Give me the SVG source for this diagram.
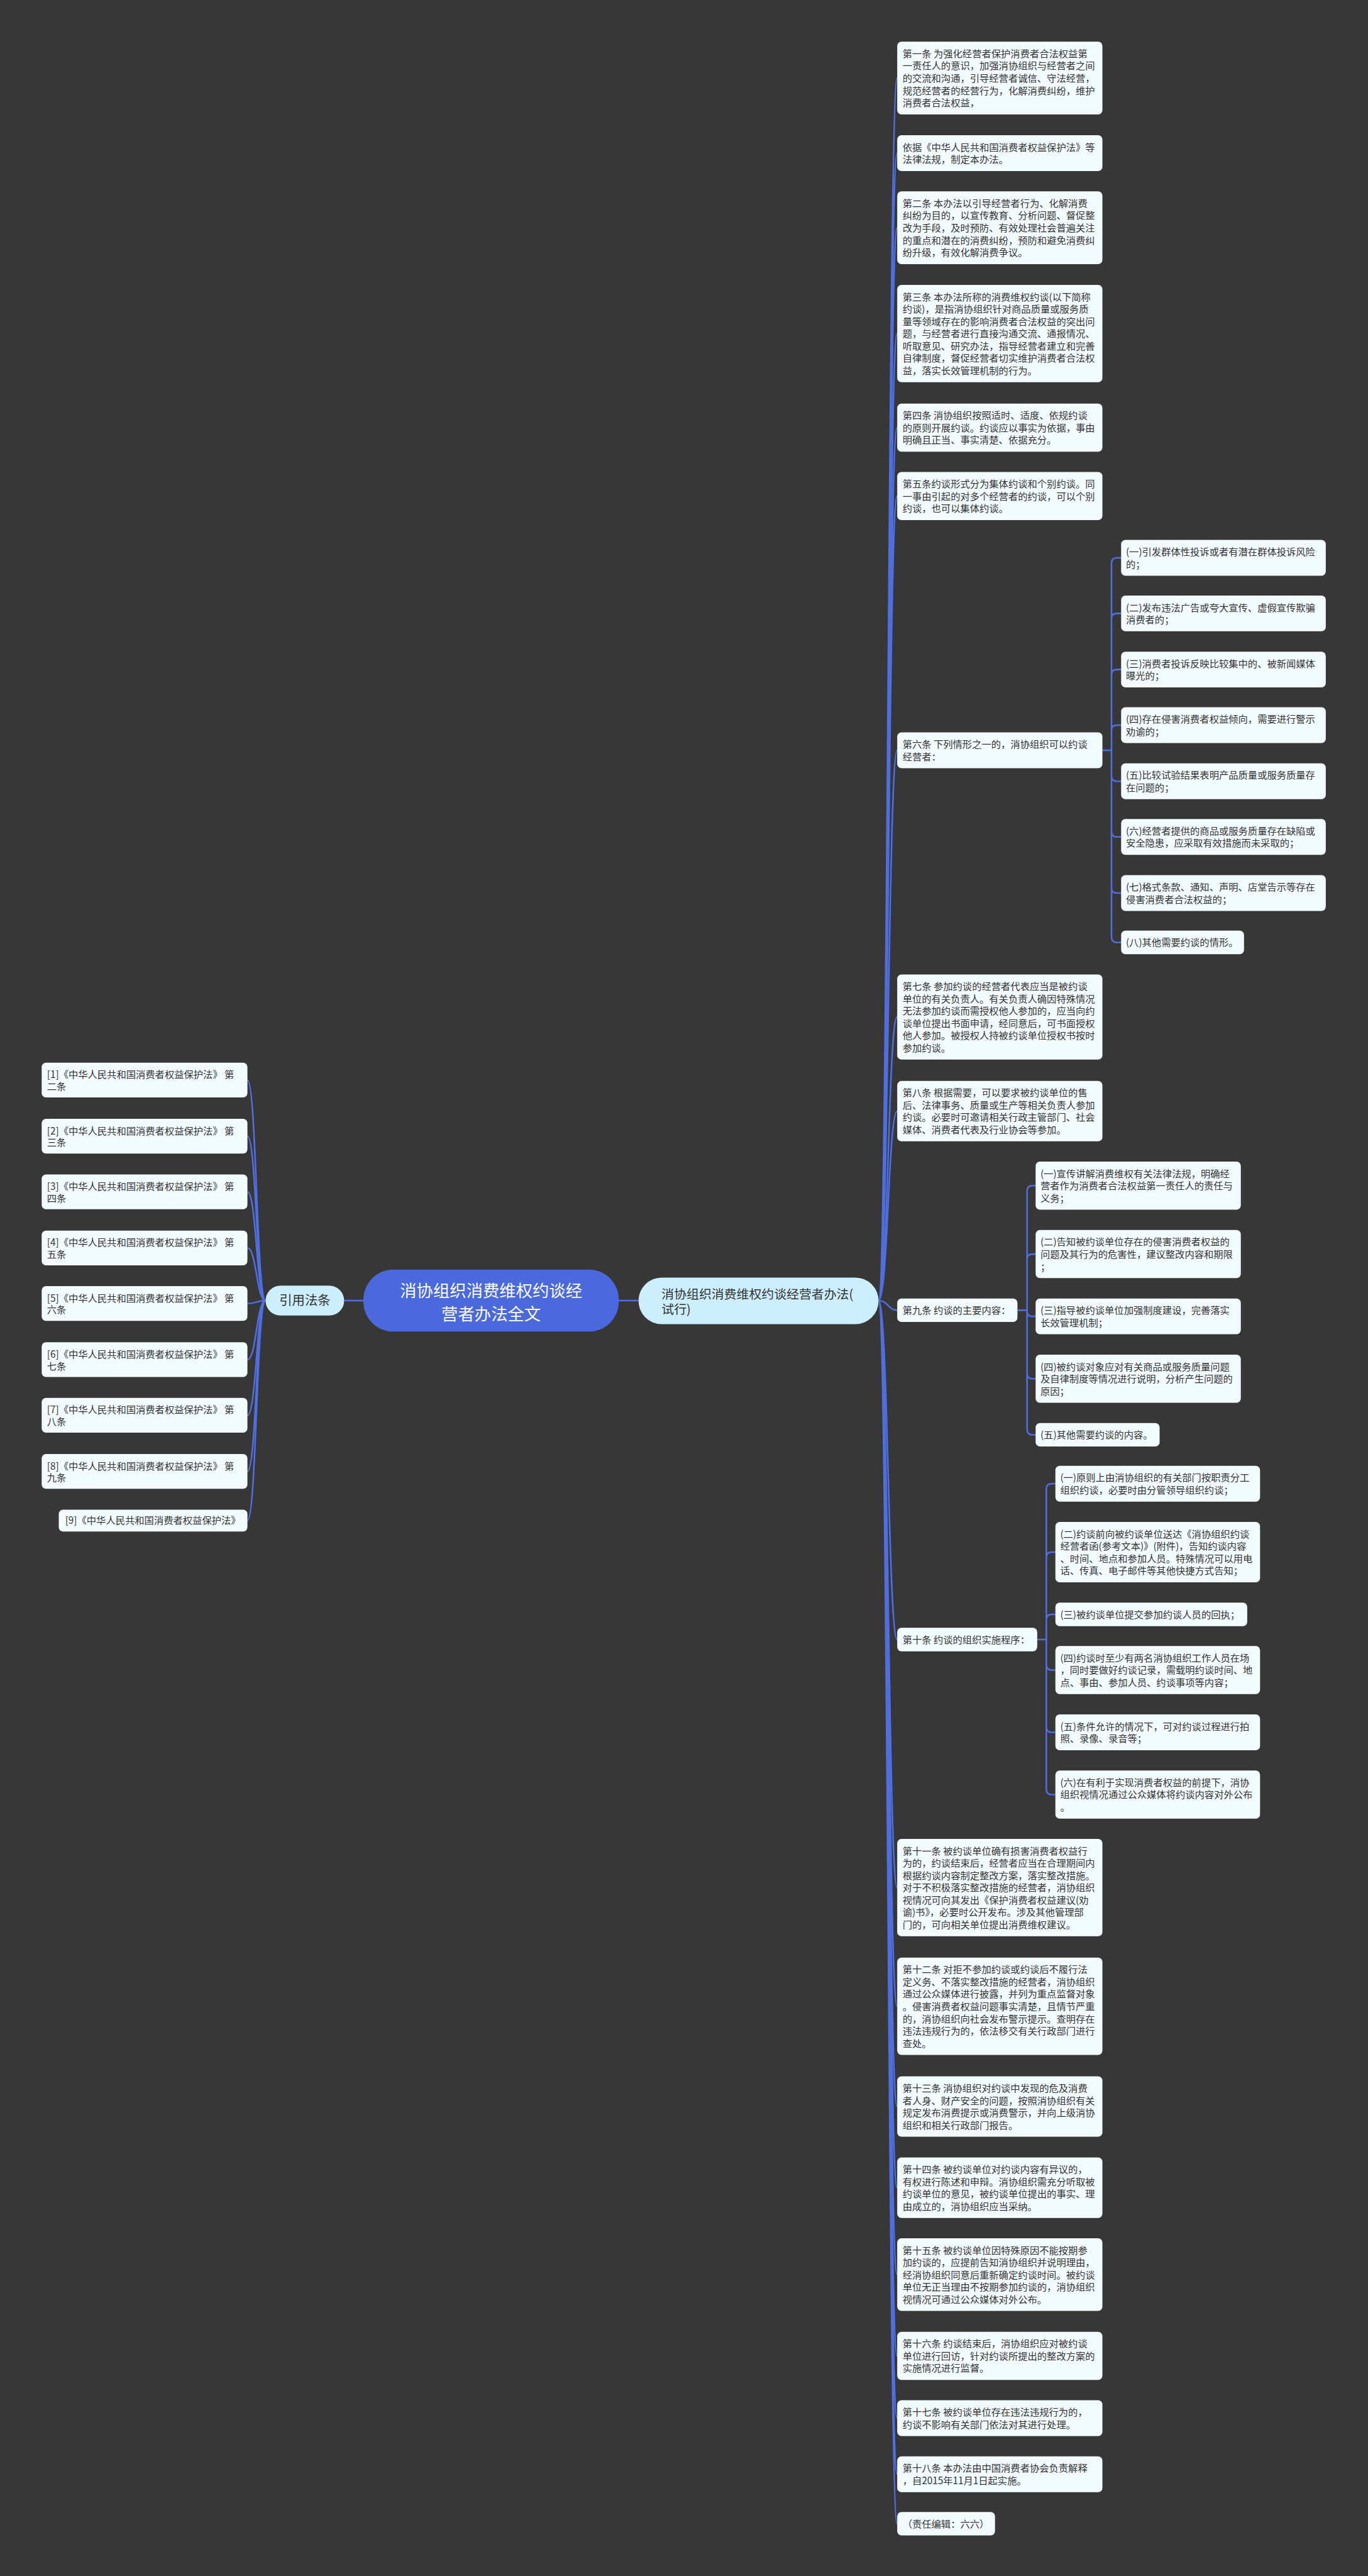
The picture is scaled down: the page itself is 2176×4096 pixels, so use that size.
<svg xmlns="http://www.w3.org/2000/svg" width="2176" height="4096" viewBox="0 0 2176 4096">
<style>
text{font-family:"Noto Sans CJK SC","Noto Sans",sans-serif}
.n rect{fill:#f2fbfe}
.t{font-size:18px;fill:#333}
.c{fill:none;stroke:#4f6fe0;stroke-width:3;stroke-linecap:round}
.l1 rect{fill:#cdeffd}
</style>
<rect width="2176" height="4096" fill="#373737"/>
<g transform="scale(0.85)">
<g id="connectors">
<path class="c" d="M644,2433H680M1158,2433H1195"/>
<path class="c" d="M1644,2433C1662,2433 1662,146 1679,146M1644,2433C1662,2433 1662,286.5 1679,286.5M1644,2433C1662,2433 1662,426 1679,426M1644,2433C1662,2433 1662,624 1679,624M1644,2433C1662,2433 1662,800 1679,800M1644,2433C1662,2433 1662,928 1679,928M1644,2433C1662,2433 1662,1403.5 1679,1403.5M1644,2433C1662,2433 1662,1902.5 1679,1902.5M1644,2433C1662,2433 1662,2078.5 1679,2078.5M1644,2433C1662,2433 1662,2451 1679,2451M1644,2433C1662,2433 1662,3067 1679,3067M1644,2433C1662,2433 1662,3531 1679,3531M1644,2433C1662,2433 1662,3753 1679,3753M1644,2433C1662,2433 1662,3940.5 1679,3940.5M1644,2433C1662,2433 1662,4092.5 1679,4092.5M1644,2433C1662,2433 1662,4255 1679,4255M1644,2433C1662,2433 1662,4407 1679,4407M1644,2433C1662,2433 1662,4523.5 1679,4523.5M1644,2433C1662,2433 1662,4628.5 1679,4628.5M1644,2433C1662,2433 1662,4721 1679,4721"/>
<path class="c" d="M497,2433C480,2433 480,2020.5 463,2020.5M497,2433C480,2433 480,2125.5 463,2125.5M497,2433C480,2433 480,2229.5 463,2229.5M497,2433C480,2433 480,2334.5 463,2334.5M497,2433C480,2433 480,2438.5 463,2438.5M497,2433C480,2433 480,2543.5 463,2543.5M497,2433C480,2433 480,2647.5 463,2647.5M497,2433C480,2433 480,2752.5 463,2752.5M497,2433C480,2433 480,2844.5 463,2844.5"/>
<path class="c" d="M2063,1403.5H2080V1053.5Q2080,1043.5 2090,1043.5H2098M2063,1403.5H2080V1157.5Q2080,1147.5 2090,1147.5H2098M2063,1403.5H2080V1262.5Q2080,1252.5 2090,1252.5H2098M2063,1403.5H2080V1366.5Q2080,1356.5 2090,1356.5H2098M2063,1403.5H2080V1451.5Q2080,1461.5 2090,1461.5H2098M2063,1403.5H2080V1555.5Q2080,1565.5 2090,1565.5H2098M2063,1403.5H2080V1660.5Q2080,1670.5 2090,1670.5H2098M2063,1403.5H2080V1753Q2080,1763 2090,1763H2098"/>
<path class="c" d="M1904,2451H1922V2228Q1922,2218 1932,2218H1938M1904,2451H1922V2356Q1922,2346 1932,2346H1938M1904,2451H1922V2452.5Q1922,2462.5 1932,2462.5H1938M1904,2451H1922V2569Q1922,2579 1932,2579H1938M1904,2451H1922V2674Q1922,2684 1932,2684H1938"/>
<path class="c" d="M1941,3067H1958V2785.5Q1958,2775.5 1968,2775.5H1975M1941,3067H1958V2913.5Q1958,2903.5 1968,2903.5H1975M1941,3067H1958V3030Q1958,3020 1968,3020H1975M1941,3067H1958V3114Q1958,3124 1968,3124H1975M1941,3067H1958V3230.5Q1958,3240.5 1968,3240.5H1975M1941,3067H1958V3347Q1958,3357 1968,3357H1975"/>
</g>

<g id="center"><rect x="680" y="2375" width="478" height="116" rx="56" fill="#4a69dc"/><text x="919" y="2426" font-size="31" fill="#ffffff" text-anchor="middle"><tspan x="919">消协组织消费维权约谈经</tspan><tspan x="919" dy="43">营者办法全文</tspan></text></g>
<g id="cite" class="l1"><rect x="497" y="2405" width="147" height="56" rx="28"/><text x="570.5" y="2441.5" font-size="24" fill="#333" text-anchor="middle">引用法条</text></g>
<g id="law" class="l1"><rect x="1195" y="2390" width="449" height="87" rx="43"/><text x="1238" y="2430" font-size="23.4" fill="#333"><tspan x="1238">消协组织消费维权约谈经营者办法(</tspan><tspan x="1238" dy="28">试行)</tspan></text></g>

<g id="ref1" class="n"><rect x="78" y="1988" width="385" height="65" rx="8"/><text class="t" y="2017"><tspan x="88">[1]《中华人民共和国消费者权益保护法》 第</tspan><tspan x="88" dy="22">二条</tspan></text></g>
<g id="ref2" class="n"><rect x="78" y="2093" width="385" height="65" rx="8"/><text class="t" y="2122"><tspan x="88">[2]《中华人民共和国消费者权益保护法》 第</tspan><tspan x="88" dy="22">三条</tspan></text></g>
<g id="ref3" class="n"><rect x="78" y="2197" width="385" height="65" rx="8"/><text class="t" y="2226"><tspan x="88">[3]《中华人民共和国消费者权益保护法》 第</tspan><tspan x="88" dy="22">四条</tspan></text></g>
<g id="ref4" class="n"><rect x="78" y="2302" width="385" height="65" rx="8"/><text class="t" y="2331"><tspan x="88">[4]《中华人民共和国消费者权益保护法》 第</tspan><tspan x="88" dy="22">五条</tspan></text></g>
<g id="ref5" class="n"><rect x="78" y="2406" width="385" height="65" rx="8"/><text class="t" y="2435"><tspan x="88">[5]《中华人民共和国消费者权益保护法》 第</tspan><tspan x="88" dy="22">六条</tspan></text></g>
<g id="ref6" class="n"><rect x="78" y="2511" width="385" height="65" rx="8"/><text class="t" y="2540"><tspan x="88">[6]《中华人民共和国消费者权益保护法》 第</tspan><tspan x="88" dy="22">七条</tspan></text></g>
<g id="ref7" class="n"><rect x="78" y="2615" width="385" height="65" rx="8"/><text class="t" y="2644"><tspan x="88">[7]《中华人民共和国消费者权益保护法》 第</tspan><tspan x="88" dy="22">八条</tspan></text></g>
<g id="ref8" class="n"><rect x="78" y="2720" width="385" height="65" rx="8"/><text class="t" y="2749"><tspan x="88">[8]《中华人民共和国消费者权益保护法》 第</tspan><tspan x="88" dy="22">九条</tspan></text></g>
<g id="ref9" class="n"><rect x="110" y="2824" width="353" height="41" rx="8"/><text class="t" x="122" y="2851">[9]《中华人民共和国消费者权益保护法》</text></g>

<g id="a1" class="n"><rect x="1679" y="78" width="384" height="136" rx="8"/><text class="t" y="107"><tspan x="1689">第一条 为强化经营者保护消费者合法权益第</tspan><tspan x="1689" dy="23">一责任人的意识，加强消协组织与经营者之间</tspan><tspan x="1689" dy="23">的交流和沟通，引导经营者诚信、守法经营，</tspan><tspan x="1689" dy="23">规范经营者的经营行为，化解消费纠纷，维护</tspan><tspan x="1689" dy="23">消费者合法权益，</tspan></text></g>
<g id="a2" class="n"><rect x="1679" y="253" width="384" height="67" rx="8"/><text class="t" y="282"><tspan x="1689">依据《中华人民共和国消费者权益保护法》等</tspan><tspan x="1689" dy="23">法律法规，制定本办法。</tspan></text></g>
<g id="a3" class="n"><rect x="1679" y="358" width="384" height="136" rx="8"/><text class="t" y="387"><tspan x="1689">第二条 本办法以引导经营者行为、化解消费</tspan><tspan x="1689" dy="23">纠纷为目的，以宣传教育、分析问题、督促整</tspan><tspan x="1689" dy="23">改为手段，及时预防、有效处理社会普遍关注</tspan><tspan x="1689" dy="23">的重点和潜在的消费纠纷，预防和避免消费纠</tspan><tspan x="1689" dy="23">纷升级，有效化解消费争议。</tspan></text></g>
<g id="a4" class="n"><rect x="1679" y="533" width="384" height="182" rx="8"/><text class="t" y="562"><tspan x="1689">第三条 本办法所称的消费维权约谈(以下简称</tspan><tspan x="1689" dy="23">约谈)，是指消协组织针对商品质量或服务质</tspan><tspan x="1689" dy="23">量等领域存在的影响消费者合法权益的突出问</tspan><tspan x="1689" dy="23">题，与经营者进行直接沟通交流、通报情况、</tspan><tspan x="1689" dy="23">听取意见、研究办法，指导经营者建立和完善</tspan><tspan x="1689" dy="23">自律制度，督促经营者切实维护消费者合法权</tspan><tspan x="1689" dy="23">益，落实长效管理机制的行为。</tspan></text></g>
<g id="a5" class="n"><rect x="1679" y="755" width="384" height="90" rx="8"/><text class="t" y="784"><tspan x="1689">第四条 消协组织按照适时、适度、依规约谈</tspan><tspan x="1689" dy="23">的原则开展约谈。约谈应以事实为依据，事由</tspan><tspan x="1689" dy="23">明确且正当、事实清楚、依据充分。</tspan></text></g>
<g id="a6" class="n"><rect x="1679" y="883" width="384" height="90" rx="8"/><text class="t" y="912"><tspan x="1689">第五条约谈形式分为集体约谈和个别约谈。同</tspan><tspan x="1689" dy="23">一事由引起的对多个经营者的约谈，可以个别</tspan><tspan x="1689" dy="23">约谈，也可以集体约谈。</tspan></text></g>
<g id="a7" class="n"><rect x="1679" y="1370" width="384" height="67" rx="8"/><text class="t" y="1399"><tspan x="1689">第六条 下列情形之一的，消协组织可以约谈</tspan><tspan x="1689" dy="23">经营者：</tspan></text></g>
<g id="a7-1" class="n"><rect x="2098" y="1010" width="383" height="67" rx="8"/><text class="t" y="1039"><tspan x="2107">(一)引发群体性投诉或者有潜在群体投诉风险</tspan><tspan x="2107" dy="23">的；</tspan></text></g>
<g id="a7-2" class="n"><rect x="2098" y="1114" width="383" height="67" rx="8"/><text class="t" y="1143"><tspan x="2107">(二)发布违法广告或夸大宣传、虚假宣传欺骗</tspan><tspan x="2107" dy="23">消费者的；</tspan></text></g>
<g id="a7-3" class="n"><rect x="2098" y="1219" width="383" height="67" rx="8"/><text class="t" y="1248"><tspan x="2107">(三)消费者投诉反映比较集中的、被新闻媒体</tspan><tspan x="2107" dy="23">曝光的；</tspan></text></g>
<g id="a7-4" class="n"><rect x="2098" y="1323" width="383" height="67" rx="8"/><text class="t" y="1352"><tspan x="2107">(四)存在侵害消费者权益倾向，需要进行警示</tspan><tspan x="2107" dy="23">劝谕的；</tspan></text></g>
<g id="a7-5" class="n"><rect x="2098" y="1428" width="383" height="67" rx="8"/><text class="t" y="1457"><tspan x="2107">(五)比较试验结果表明产品质量或服务质量存</tspan><tspan x="2107" dy="23">在问题的；</tspan></text></g>
<g id="a7-6" class="n"><rect x="2098" y="1532" width="383" height="67" rx="8"/><text class="t" y="1561"><tspan x="2107">(六)经营者提供的商品或服务质量存在缺陷或</tspan><tspan x="2107" dy="23">安全隐患，应采取有效措施而未采取的；</tspan></text></g>
<g id="a7-7" class="n"><rect x="2098" y="1637" width="383" height="67" rx="8"/><text class="t" y="1666"><tspan x="2107">(七)格式条款、通知、声明、店堂告示等存在</tspan><tspan x="2107" dy="23">侵害消费者合法权益的；</tspan></text></g>
<g id="a7-8" class="n"><rect x="2098" y="1741" width="230" height="44" rx="8"/><text class="t" x="2107" y="1770">(八)其他需要约谈的情形。</text></g>
<g id="a8" class="n"><rect x="1679" y="1823" width="384" height="159" rx="8"/><text class="t" y="1852"><tspan x="1689">第七条 参加约谈的经营者代表应当是被约谈</tspan><tspan x="1689" dy="23">单位的有关负责人。有关负责人确因特殊情况</tspan><tspan x="1689" dy="23">无法参加约谈而需授权他人参加的，应当向约</tspan><tspan x="1689" dy="23">谈单位提出书面申请，经同意后，可书面授权</tspan><tspan x="1689" dy="23">他人参加。被授权人持被约谈单位授权书按时</tspan><tspan x="1689" dy="23">参加约谈。</tspan></text></g>
<g id="a9" class="n"><rect x="1679" y="2022" width="384" height="113" rx="8"/><text class="t" y="2051"><tspan x="1689">第八条 根据需要，可以要求被约谈单位的售</tspan><tspan x="1689" dy="23">后、法律事务、质量或生产等相关负责人参加</tspan><tspan x="1689" dy="23">约谈。必要时可邀请相关行政主管部门、社会</tspan><tspan x="1689" dy="23">媒体、消费者代表及行业协会等参加。</tspan></text></g>
<g id="a10" class="n"><rect x="1679" y="2429" width="225" height="44" rx="8"/><text class="t" x="1689" y="2458">第九条 约谈的主要内容：</text></g>
<g id="a10-1" class="n"><rect x="1938" y="2173" width="384" height="90" rx="8"/><text class="t" y="2202"><tspan x="1947">(一)宣传讲解消费维权有关法律法规，明确经</tspan><tspan x="1947" dy="23">营者作为消费者合法权益第一责任人的责任与</tspan><tspan x="1947" dy="23">义务；</tspan></text></g>
<g id="a10-2" class="n"><rect x="1938" y="2301" width="384" height="90" rx="8"/><text class="t" y="2330"><tspan x="1947">(二)告知被约谈单位存在的侵害消费者权益的</tspan><tspan x="1947" dy="23">问题及其行为的危害性，建议整改内容和期限</tspan><tspan x="1947" dy="23">；</tspan></text></g>
<g id="a10-3" class="n"><rect x="1938" y="2429" width="384" height="67" rx="8"/><text class="t" y="2458"><tspan x="1947">(三)指导被约谈单位加强制度建设，完善落实</tspan><tspan x="1947" dy="23">长效管理机制；</tspan></text></g>
<g id="a10-4" class="n"><rect x="1938" y="2534" width="384" height="90" rx="8"/><text class="t" y="2563"><tspan x="1947">(四)被约谈对象应对有关商品或服务质量问题</tspan><tspan x="1947" dy="23">及自律制度等情况进行说明，分析产生问题的</tspan><tspan x="1947" dy="23">原因；</tspan></text></g>
<g id="a10-5" class="n"><rect x="1938" y="2662" width="232" height="44" rx="8"/><text class="t" x="1947" y="2691">(五)其他需要约谈的内容。</text></g>
<g id="a11" class="n"><rect x="1679" y="3045" width="262" height="44" rx="8"/><text class="t" x="1689" y="3074">第十条 约谈的组织实施程序：</text></g>
<g id="a11-1" class="n"><rect x="1975" y="2742" width="383" height="67" rx="8"/><text class="t" y="2771"><tspan x="1984">(一)原则上由消协组织的有关部门按职责分工</tspan><tspan x="1984" dy="23">组织约谈，必要时由分管领导组织约谈；</tspan></text></g>
<g id="a11-2" class="n"><rect x="1975" y="2847" width="383" height="113" rx="8"/><text class="t" y="2876"><tspan x="1984">(二)约谈前向被约谈单位送达《消协组织约谈</tspan><tspan x="1984" dy="23">经营者函(参考文本)》(附件)，告知约谈内容</tspan><tspan x="1984" dy="23">、时间、地点和参加人员。特殊情况可以用电</tspan><tspan x="1984" dy="23">话、传真、电子邮件等其他快捷方式告知；</tspan></text></g>
<g id="a11-3" class="n"><rect x="1975" y="2998" width="359" height="44" rx="8"/><text class="t" x="1984" y="3027">(三)被约谈单位提交参加约谈人员的回执；</text></g>
<g id="a11-4" class="n"><rect x="1975" y="3079" width="383" height="90" rx="8"/><text class="t" y="3108"><tspan x="1984">(四)约谈时至少有两名消协组织工作人员在场</tspan><tspan x="1984" dy="23">，同时要做好约谈记录，需载明约谈时间、地</tspan><tspan x="1984" dy="23">点、事由、参加人员、约谈事项等内容；</tspan></text></g>
<g id="a11-5" class="n"><rect x="1975" y="3207" width="383" height="67" rx="8"/><text class="t" y="3236"><tspan x="1984">(五)条件允许的情况下，可对约谈过程进行拍</tspan><tspan x="1984" dy="23">照、录像、录音等；</tspan></text></g>
<g id="a11-6" class="n"><rect x="1975" y="3312" width="383" height="90" rx="8"/><text class="t" y="3341"><tspan x="1984">(六)在有利于实现消费者权益的前提下，消协</tspan><tspan x="1984" dy="23">组织视情况通过公众媒体将约谈内容对外公布</tspan><tspan x="1984" dy="23">。</tspan></text></g>
<g id="a12" class="n"><rect x="1679" y="3440" width="384" height="182" rx="8"/><text class="t" y="3469"><tspan x="1689">第十一条 被约谈单位确有损害消费者权益行</tspan><tspan x="1689" dy="23">为的，约谈结束后，经营者应当在合理期间内</tspan><tspan x="1689" dy="23">根据约谈内容制定整改方案，落实整改措施。</tspan><tspan x="1689" dy="23">对于不积极落实整改措施的经营者，消协组织</tspan><tspan x="1689" dy="23">视情况可向其发出《保护消费者权益建议(劝</tspan><tspan x="1689" dy="23">谕)书》，必要时公开发布。涉及其他管理部</tspan><tspan x="1689" dy="23">门的，可向相关单位提出消费维权建议。</tspan></text></g>
<g id="a13" class="n"><rect x="1679" y="3662" width="384" height="182" rx="8"/><text class="t" y="3691"><tspan x="1689">第十二条 对拒不参加约谈或约谈后不履行法</tspan><tspan x="1689" dy="23">定义务、不落实整改措施的经营者，消协组织</tspan><tspan x="1689" dy="23">通过公众媒体进行披露，并列为重点监督对象</tspan><tspan x="1689" dy="23">。侵害消费者权益问题事实清楚，且情节严重</tspan><tspan x="1689" dy="23">的，消协组织向社会发布警示提示。查明存在</tspan><tspan x="1689" dy="23">违法违规行为的，依法移交有关行政部门进行</tspan><tspan x="1689" dy="23">查处。</tspan></text></g>
<g id="a14" class="n"><rect x="1679" y="3884" width="384" height="113" rx="8"/><text class="t" y="3913"><tspan x="1689">第十三条 消协组织对约谈中发现的危及消费</tspan><tspan x="1689" dy="23">者人身、财产安全的问题，按照消协组织有关</tspan><tspan x="1689" dy="23">规定发布消费提示或消费警示，并向上级消协</tspan><tspan x="1689" dy="23">组织和相关行政部门报告。</tspan></text></g>
<g id="a15" class="n"><rect x="1679" y="4036" width="384" height="113" rx="8"/><text class="t" y="4065"><tspan x="1689">第十四条 被约谈单位对约谈内容有异议的，</tspan><tspan x="1689" dy="23">有权进行陈述和申辩。消协组织需充分听取被</tspan><tspan x="1689" dy="23">约谈单位的意见，被约谈单位提出的事实、理</tspan><tspan x="1689" dy="23">由成立的，消协组织应当采纳。</tspan></text></g>
<g id="a16" class="n"><rect x="1679" y="4187" width="384" height="136" rx="8"/><text class="t" y="4216"><tspan x="1689">第十五条 被约谈单位因特殊原因不能按期参</tspan><tspan x="1689" dy="23">加约谈的，应提前告知消协组织并说明理由，</tspan><tspan x="1689" dy="23">经消协组织同意后重新确定约谈时间。被约谈</tspan><tspan x="1689" dy="23">单位无正当理由不按期参加约谈的，消协组织</tspan><tspan x="1689" dy="23">视情况可通过公众媒体对外公布。</tspan></text></g>
<g id="a17" class="n"><rect x="1679" y="4362" width="384" height="90" rx="8"/><text class="t" y="4391"><tspan x="1689">第十六条 约谈结束后，消协组织应对被约谈</tspan><tspan x="1689" dy="23">单位进行回访，针对约谈所提出的整改方案的</tspan><tspan x="1689" dy="23">实施情况进行监督。</tspan></text></g>
<g id="a18" class="n"><rect x="1679" y="4490" width="384" height="67" rx="8"/><text class="t" y="4519"><tspan x="1689">第十七条 被约谈单位存在违法违规行为的，</tspan><tspan x="1689" dy="23">约谈不影响有关部门依法对其进行处理。</tspan></text></g>
<g id="a19" class="n"><rect x="1679" y="4595" width="384" height="67" rx="8"/><text class="t" y="4624"><tspan x="1689">第十八条 本办法由中国消费者协会负责解释</tspan><tspan x="1689" dy="23">，自2015年11月1日起实施。</tspan></text></g>
<g id="a20" class="n"><rect x="1679" y="4699" width="183" height="44" rx="8"/><text class="t" x="1689" y="4728">（责任编辑：六六）</text></g>
</g>
</svg>
